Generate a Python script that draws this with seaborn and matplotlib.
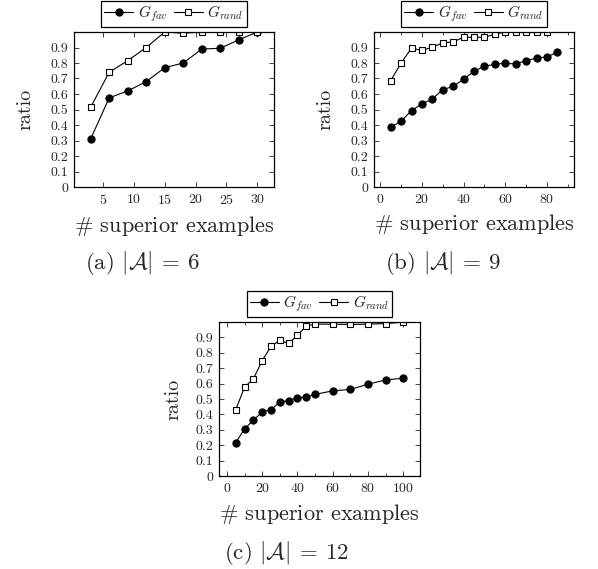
import numpy as np
import matplotlib
matplotlib.use("Agg")
import matplotlib.pyplot as plt
import seaborn as sns
from matplotlib.ticker import MultipleLocator, FuncFormatter

# panel (a) |A| = 6
x_a = [3, 6, 9, 12, 15, 18, 21, 24, 27, 30]
fav_a = [0.31, 0.575, 0.62, 0.68, 0.77, 0.80, 0.89, 0.895, 0.95, 1.0]
rand_a = [0.515, 0.74, 0.815, 0.90, 1.0, 0.992, 1.0, 1.0, 1.0, 1.0]

# panel (b) |A| = 9
x_b_fav = [5, 10, 15, 20, 25, 30, 35, 40, 45, 50, 55, 60, 65, 70, 75, 80, 85]
fav_b = [0.386, 0.424, 0.493, 0.536, 0.568, 0.628, 0.649, 0.696, 0.746, 0.780,
         0.791, 0.799, 0.793, 0.816, 0.831, 0.840, 0.868]
x_b_rand = [5, 10, 15, 20, 25, 30, 35, 40, 45, 50, 55, 60, 65, 70, 75, 80]
rand_b = [0.686, 0.799, 0.896, 0.881, 0.902, 0.930, 0.936, 0.966, 0.966, 0.966,
          0.986, 1.0, 1.0, 1.0, 1.0, 1.0]

# panel (c) |A| = 12
x_c = [5, 10, 15, 20, 25, 30, 35, 40, 45, 50, 60, 70, 80, 90, 100]
fav_c = [0.217, 0.306, 0.362, 0.416, 0.431, 0.480, 0.490, 0.508, 0.512, 0.530,
         0.553, 0.562, 0.596, 0.624, 0.635]
rand_c = [0.431, 0.577, 0.631, 0.749, 0.842, 0.881, 0.861, 0.915, 0.973, 0.986,
          0.986, 0.984, 0.986, 0.99, 0.999]

captions = [r"(a) $|\mathcal{A}|\:=\:6$", r"(b) $|\mathcal{A}|\:=\:9$", r"(c) $|\mathcal{A}|\:=\:12$"]

sns.set_style("ticks")
plt.rcParams["font.family"] = "serif"
plt.rcParams["font.serif"] = ["cmr10", "DejaVu Serif"]
plt.rcParams["mathtext.fontset"] = "cm"
plt.rcParams["axes.formatter.use_mathtext"] = True

fig = plt.figure(figsize=(5.98, 5.69), dpi=100)
W, H = 598, 569


def px_axes(left, top, right, bottom):
    return fig.add_axes([left / W, 1 - bottom / H, (right - left) / W, (bottom - top) / H])


def draw_panel(ax, xf, yf, xr, yr, xlim, major, minor, ylab_x):
    sns.lineplot(x=xf, y=yf, ax=ax, color="black", marker="o", markersize=5.2,
                 mec="black", mfc="black", lw=0.8, label=r"$G_{fav}$")
    sns.lineplot(x=xr, y=yr, ax=ax, color="black", marker="s", markersize=4.6,
                 mec="black", mfc="white", mew=0.8, lw=0.8, label=r"$G_{rand}$")
    ax.set_xlim(*xlim)
    ax.set_ylim(0, 1)
    ax.set_yticks(np.arange(0, 0.95, 0.1))
    ax.yaxis.set_major_formatter(FuncFormatter(lambda v, p: "0" if abs(v) < 1e-9 else f"{v:.1f}"))
    ax.xaxis.set_major_locator(MultipleLocator(major))
    if minor:
        ax.xaxis.set_minor_locator(MultipleLocator(minor))
    ax.tick_params(which="both", direction="in", top=True, right=True, labelsize=10,
                   width=0.6, pad=4)
    ax.tick_params(which="major", length=3.8)
    ax.tick_params(which="minor", length=2.4)
    for s in ax.spines.values():
        s.set_linewidth(0.9)
        s.set_color("black")
    ax.set_xlabel(r"$\#$ superior examples", fontsize=16, labelpad=5)
    ax.set_ylabel("ratio", fontsize=14.5)
    ax.yaxis.set_label_coords(ylab_x, 0.5)
    leg = ax.legend(loc="lower center", bbox_to_anchor=(0.5, 1.03), ncol=2, fontsize=11,
                    frameon=True, fancybox=False, framealpha=1, edgecolor="black",
                    handlelength=1.9, handletextpad=0.3, columnspacing=0.4,
                    borderpad=0.2, borderaxespad=0)
    leg.get_frame().set_linewidth(0.9)


ax_a = px_axes(74, 32, 274, 187)
draw_panel(ax_a, x_a, fav_a, x_a, rand_a, (0.3, 32.7), 5, None, -0.2)
ax_b = px_axes(374, 32, 574, 187)
draw_panel(ax_b, x_b_fav, fav_b, x_b_rand, rand_b, (-3, 93), 20, 10, -0.2)
ax_c = px_axes(219, 322, 420, 476)
draw_panel(ax_c, x_c, fav_c, x_c, rand_c, (-4.5, 109.5), 20, 10, -0.18)

fig.text(143 / W, 1 - 263 / H, captions[0], ha="center", va="center", fontsize=16.5)
fig.text(443 / W, 1 - 263 / H, captions[1], ha="center", va="center", fontsize=16.5)
fig.text(287 / W, 1 - 553 / H, captions[2], ha="center", va="center", fontsize=16.5)

fig.savefig("out.png", dpi=100)
